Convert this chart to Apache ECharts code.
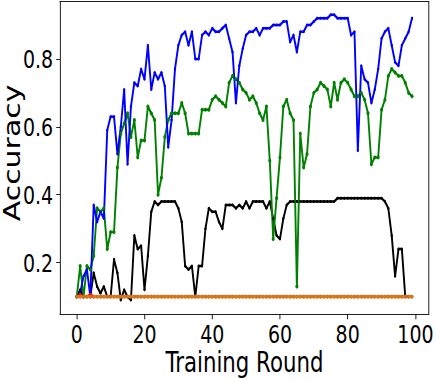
<!DOCTYPE html>
<html lang="en">
<head>
    <meta charset="UTF-8">
    <title>Accuracy per training round</title>
    <script src="https://cdn.jsdelivr.net/npm/echarts@6/dist/echarts.min.js"></script>
    <style>
        html, body { margin: 0; padding: 0; background: #fff; overflow: hidden; }
        /* the reference figure is squeezed horizontally, so draw wider and scale back */
        #chart { width: 574px; height: 381px; transform: scaleX(0.7596); transform-origin: 0 0; }
    </style>
</head>
<body>
    <div id="chart"></div>
<script>
    // training rounds 0..99
    var rounds = [];
    for (var r = 0; r < 100; r++) rounds.push(r);

    var xTicks = [0, 20, 40, 60, 80, 100];
    var yTicks = [0.2, 0.4, 0.6, 0.8];

    var blueAcc = [
        0.10, 0.11, 0.16, 0.18, 0.10, 0.37, 0.32, 0.35, 0.33, 0.59,
        0.63, 0.63, 0.52, 0.60, 0.71, 0.49, 0.66, 0.73, 0.72, 0.77,
        0.74, 0.84, 0.71, 0.76, 0.74, 0.76, 0.72, 0.54, 0.62, 0.77,
        0.84, 0.87, 0.88, 0.84, 0.88, 0.80, 0.80, 0.87, 0.88, 0.87,
        0.89, 0.88, 0.88, 0.89, 0.90, 0.86, 0.82, 0.67, 0.78, 0.83,
        0.87, 0.88, 0.88, 0.89, 0.87, 0.89, 0.89, 0.89, 0.90, 0.90,
        0.90, 0.91, 0.91, 0.85, 0.87, 0.82, 0.88, 0.88, 0.90, 0.90,
        0.91, 0.92, 0.92, 0.92, 0.92, 0.93, 0.93, 0.92, 0.92, 0.92,
        0.92, 0.87, 0.88, 0.53, 0.78, 0.74, 0.73, 0.67, 0.71, 0.77,
        0.86, 0.88, 0.89, 0.84, 0.79, 0.78, 0.84, 0.86, 0.88, 0.92
    ];
    var greenAcc = [
        0.10, 0.19, 0.10, 0.19, 0.18, 0.22, 0.36, 0.35, 0.36, 0.24,
        0.29, 0.29, 0.48, 0.58, 0.61, 0.64, 0.57, 0.62, 0.51, 0.56,
        0.56, 0.66, 0.64, 0.62, 0.40, 0.45, 0.57, 0.62, 0.64, 0.64,
        0.64, 0.67, 0.64, 0.58, 0.58, 0.58, 0.58, 0.65, 0.65, 0.65,
        0.68, 0.69, 0.68, 0.67, 0.66, 0.73, 0.75, 0.74, 0.73, 0.71,
        0.70, 0.68, 0.69, 0.67, 0.64, 0.62, 0.66, 0.50, 0.27, 0.39,
        0.51, 0.66, 0.68, 0.64, 0.62, 0.13, 0.58, 0.48, 0.52, 0.66,
        0.70, 0.71, 0.73, 0.72, 0.71, 0.66, 0.73, 0.68, 0.73, 0.74,
        0.73, 0.71, 0.69, 0.69, 0.70, 0.68, 0.64, 0.49, 0.51, 0.51,
        0.65, 0.68, 0.75, 0.77, 0.76, 0.75, 0.75, 0.73, 0.70, 0.69
    ];
    var blackAcc = [
        0.10, 0.12, 0.10, 0.10, 0.10, 0.17, 0.13, 0.11, 0.13, 0.10,
        0.10, 0.21, 0.17, 0.09, 0.12, 0.10, 0.09, 0.28, 0.24, 0.25,
        0.12, 0.22, 0.35, 0.38, 0.37, 0.38, 0.38, 0.38, 0.38, 0.38,
        0.36, 0.32, 0.19, 0.18, 0.19, 0.10, 0.19, 0.19, 0.30, 0.36,
        0.35, 0.35, 0.32, 0.30, 0.37, 0.37, 0.37, 0.36, 0.37, 0.36,
        0.38, 0.36, 0.38, 0.38, 0.38, 0.38, 0.36, 0.38, 0.33, 0.28,
        0.27, 0.33, 0.37, 0.38, 0.38, 0.38, 0.38, 0.38, 0.38, 0.38,
        0.38, 0.38, 0.38, 0.38, 0.38, 0.38, 0.38, 0.39, 0.39, 0.39,
        0.39, 0.39, 0.39, 0.39, 0.39, 0.39, 0.39, 0.39, 0.39, 0.39,
        0.39, 0.38, 0.36, 0.28, 0.16, 0.24, 0.24, 0.10, 0.10, 0.10
    ];
    var redAcc = [
        0.10, 0.107, 0.10, 0.10, 0.107, 0.10, 0.10, 0.10, 0.10, 0.10,
        0.10, 0.10, 0.10, 0.10, 0.10, 0.10, 0.10, 0.10, 0.10, 0.10,
        0.10, 0.10, 0.10, 0.10, 0.10, 0.10, 0.10, 0.10, 0.10, 0.10,
        0.10, 0.10, 0.10, 0.10, 0.10, 0.10, 0.10, 0.10, 0.10, 0.10,
        0.10, 0.10, 0.10, 0.10, 0.10, 0.10, 0.10, 0.10, 0.10, 0.10,
        0.10, 0.10, 0.10, 0.10, 0.10, 0.10, 0.10, 0.10, 0.10, 0.10,
        0.10, 0.10, 0.10, 0.10, 0.10, 0.10, 0.10, 0.10, 0.10, 0.10,
        0.10, 0.10, 0.10, 0.10, 0.10, 0.10, 0.10, 0.10, 0.10, 0.10,
        0.10, 0.10, 0.10, 0.10, 0.10, 0.10, 0.10, 0.10, 0.10, 0.10,
        0.10, 0.10, 0.10, 0.10, 0.10, 0.10, 0.10, 0.10, 0.10, 0.10
    ];
    var orangeAcc = [
        0.10, 0.10, 0.10, 0.10, 0.10, 0.10, 0.10, 0.10, 0.10, 0.10,
        0.10, 0.10, 0.10, 0.10, 0.10, 0.10, 0.10, 0.10, 0.10, 0.10,
        0.10, 0.10, 0.10, 0.10, 0.10, 0.10, 0.10, 0.10, 0.10, 0.10,
        0.10, 0.10, 0.10, 0.10, 0.10, 0.10, 0.10, 0.10, 0.10, 0.10,
        0.10, 0.10, 0.10, 0.10, 0.10, 0.10, 0.10, 0.10, 0.10, 0.10,
        0.10, 0.10, 0.10, 0.10, 0.10, 0.10, 0.10, 0.10, 0.10, 0.10,
        0.10, 0.10, 0.10, 0.10, 0.10, 0.10, 0.10, 0.10, 0.10, 0.10,
        0.10, 0.10, 0.10, 0.10, 0.10, 0.10, 0.10, 0.10, 0.10, 0.10,
        0.10, 0.10, 0.10, 0.10, 0.10, 0.10, 0.10, 0.10, 0.10, 0.10,
        0.10, 0.10, 0.10, 0.10, 0.10, 0.10, 0.10, 0.10, 0.10, 0.10
    ];

    function pairs(values) {
        return values.map(function (v, i) { return [rounds[i], v]; });
    }

    function lineSeries(name, values, color, markColor, width, size) {
        return {
            name: name,
            type: 'line',
            data: pairs(values),
            symbol: 'circle',
            symbolSize: size,
            showSymbol: true,
            lineStyle: { color: color, width: width },
            itemStyle: { color: markColor },
            emphasis: { disabled: true }
        };
    }

    var font = 'DejaVu Sans';
    var xMin = -4.95, xMax = 103.95;
    var yMin = 0.048, yMax = 0.969;
    var frameLine = { show: true, onZero: false, lineStyle: { color: '#000', width: 1 } };

    var option = {
        animation: false,
        backgroundColor: '#fff',
        grid: { left: 79, right: 9.5, top: 1.5, bottom: 66.7, containLabel: false, outerBoundsMode: 'none' },
        xAxis: [{
            type: 'value', min: xMin, max: xMax,
            name: 'Training Round',
            nameLocation: 'middle',
            nameGap: 34,
            nameMoveOverlap: false,
            nameTextStyle: { fontSize: 28, lineHeight: 28, color: '#000', fontFamily: font },
            axisLine: frameLine,
            axisTick: { show: true, length: 5, customValues: xTicks, lineStyle: { color: '#000' } },
            axisLabel: { customValues: xTicks, fontSize: 25, lineHeight: 24, color: '#000', fontFamily: font, margin: 8 },
            splitLine: { show: false }
        }, {
            // top frame line
            type: 'value', position: 'top', min: xMin, max: xMax,
            axisLine: frameLine, axisTick: { show: false }, axisLabel: { show: false }, splitLine: { show: false }
        }],
        yAxis: [{
            type: 'value', min: yMin, max: yMax,
            name: 'Accuracy',
            nameLocation: 'middle',
            nameGap: 50,
            nameMoveOverlap: false,
            nameTextStyle: { fontSize: 30, lineHeight: 28, color: '#000', fontFamily: font, padding: [0, 0, 0, 10] },
            axisLine: frameLine,
            axisTick: { show: true, length: 5, customValues: yTicks, lineStyle: { color: '#000' } },
            axisLabel: {
                customValues: yTicks, fontSize: 25, color: '#000', fontFamily: font, margin: 9,
                formatter: function (v) { return v.toFixed(1); }
            },
            splitLine: { show: false }
        }, {
            // right frame line
            type: 'value', position: 'right', min: yMin, max: yMax,
            axisLine: frameLine, axisTick: { show: false }, axisLabel: { show: false }, splitLine: { show: false }
        }],
        series: [
            lineSeries('black', blackAcc, '#000000', '#000000', 2.5, 3),
            lineSeries('green', greenAcc, '#008000', '#008000', 2.5, 4),
            lineSeries('blue', blueAcc, '#0000ff', '#0000ff', 2.5, 3),
            lineSeries('red', redAcc, '#ff0000', '#ff0000', 2.5, 3),
            lineSeries('orange', orangeAcc, '#f08419', '#d4761c', 3, 4)
        ]
    };

    var chart = echarts.init(document.getElementById('chart'), null, { renderer: 'svg' });
    chart.setOption(option);
</script>
</body>
</html>
